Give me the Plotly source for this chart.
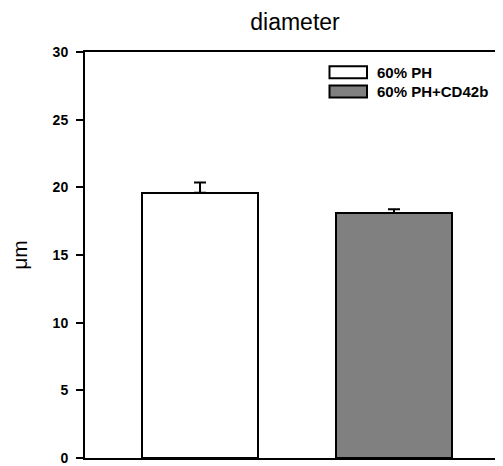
import plotly.graph_objects as go

categories = ["60% PH", "60% PH+CD42b"]
values = [19.6, 18.1]
errors = [0.75, 0.28]
colors = ["#ffffff", "#808080"]
y_ticks = [0, 5, 10, 15, 20, 25, 30]

FONT = "Liberation Sans, Arial, sans-serif"

# the page body has an 8px default margin; the figure is sized to fit inside it
W, HT = 495, 458
ML, MT, MB = 77, 44, 3

fig = go.Figure()
fig.add_trace(go.Bar(
    x=[0, 1],
    y=values,
    width=0.6,
    marker=dict(color=colors, line=dict(color="black", width=2)),
    error_y=dict(type="data", array=errors, arrayminus=[0, 0], symmetric=False,
                 color="black", thickness=2, width=6),
    showlegend=False,
    hovertext=categories,
))

# legend drawn with shapes + text (positions in screen px of the reference)
L = 418.0
H = 411.0
def px(x):
    return (x - 85) / L
def py(y):
    return (461 - y) / H

legend_rows = [(64.5, 76.5, 70.5), (84, 96, 90)]
for (y0, y1, yc), name, col in zip(legend_rows, categories, colors):
    fig.add_shape(type="rect", xref="paper", yref="paper",
                  x0=px(329.5), x1=px(367), y0=py(y1), y1=py(y0),
                  fillcolor=col, line=dict(color="black", width=2))
    fig.add_annotation(xref="paper", yref="paper", x=px(375), y=py(yc),
                       text=name, showarrow=False, xanchor="left", yanchor="middle",
                       font=dict(family=FONT, size=15, color="black", weight="bold"))

fig.update_layout(
    width=W, height=HT,
    margin=dict(l=ML, r=0, t=MT, b=MB),
    paper_bgcolor="white", plot_bgcolor="white",
    title=dict(text="diameter", x=287 / W, xanchor="center", y=1 - 14 / HT,
               yanchor="middle", font=dict(family=FONT, size=23, color="black")),
    bargap=0,
    xaxis=dict(range=[-0.593, 1.562], showticklabels=False, ticks="",
               showgrid=False, zeroline=False, showline=True, linecolor="black",
               linewidth=2, mirror=True, fixedrange=True),
    yaxis=dict(range=[0, 30], tickvals=y_ticks, ticktext=[str(t) for t in y_ticks],
               ticks="outside", ticklen=7, tickwidth=2, tickcolor="black",
               showgrid=False, zeroline=False, showline=True, linecolor="black",
               linewidth=2, ticklabelstandoff=5, ticklabeloverflow="allow",
               tickfont=dict(family=FONT, size=14, color="black", weight="bold"),
               title=dict(text="μm", standoff=21,
                          font=dict(family=FONT, size=21, color="black"))),
)

fig.write_html("out.html")
